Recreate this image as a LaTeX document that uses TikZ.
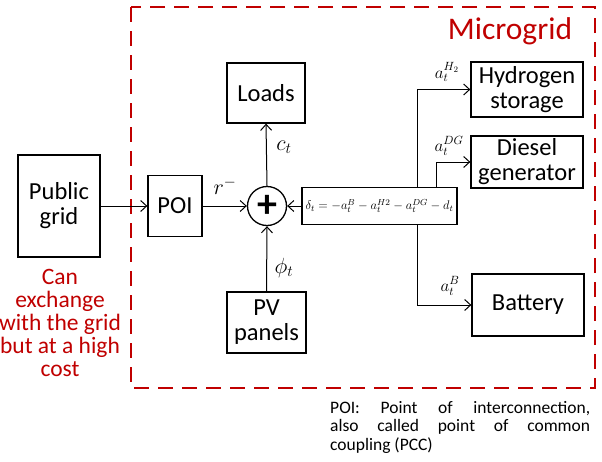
\RequirePackage{fix-cm}
\documentclass[tikz,border=0pt]{standalone}
\usepackage{fontspec}
\setmainfont{Carlito}
\usetikzlibrary{arrows.meta}
\definecolor{gridred}{RGB}{192,0,0}

\begin{document}
\begin{tikzpicture}[x=1pt, y=-1pt, >={Straight Barb[length=6pt,width=11pt]},
    blk/.style={draw, line width=1.3pt, align=center, inner sep=0pt,
        font=\fontsize{24.5}{25}\selectfont},
    lbl/.style={font=\fontsize{22}{24}\selectfont},
    sml/.style={font=\fontsize{17}{19}\selectfont}]
    \useasboundingbox (0,0) rectangle (602,461);

    % microgrid frame
    \draw[gridred, line width=2pt, dash pattern=on 15pt off 9pt] (131,7) rectangle (595,388);
    \node[gridred, font=\fontsize{31.5}{34}\selectfont] (mg) at (510,31) {Microgrid};

    \node[blk, minimum width=82pt, minimum height=102pt] (pub) at (59,206) {Public\\grid};
    \node[blk, minimum width=54pt, minimum height=61pt] (poi) at (175,206) {POI};
    \node[draw, circle, line width=1.3pt, minimum size=39pt, inner sep=0pt,
        font=\fontsize{40}{40}\selectfont\bfseries] (sum) at (267,206) {+};
    \node[blk, minimum width=78pt, minimum height=60pt] (loads) at (266,93) {Loads};
    \node[blk, minimum width=79pt, minimum height=61pt] (pv) at (266.5,322.5) {PV\\panels};
    \node[draw, line width=1.3pt, minimum width=155pt, minimum height=37pt, inner sep=0pt,
        font=\fontsize{12.5}{14}\selectfont] (dlt) at (379.5,206)
        {$\delta_t=-a_t^B-a_t^{H2}-a_t^{DG}-d_t$};
    \node[blk, minimum width=112pt, minimum height=55pt] (hyd) at (527,89.5) {Hydrogen\\storage};
    \node[blk, minimum width=112pt, minimum height=52pt] (dsl) at (527,162) {Diesel\\generator};
    \node[blk, minimum width=112pt, minimum height=62pt] (bat) at (528,305) {Battery};

    \coordinate (hx) at (417,150);
    \coordinate (dx) at (436,150);

    % flows
    \draw[->, line width=1pt] (pub.east) -- (poi.west);
    \draw[->, line width=1pt] (poi.east) -- (sum.west);
    \draw[->, line width=1pt] (sum.north) -- (loads.south);
    \draw[->, line width=1pt] (pv.north) -- (sum.south);
    \draw[->, line width=1pt] (dlt.west) -- (sum.east);
    \draw[->, line width=1pt] (hx |- dlt.north) |- (hyd.west);
    \draw[->, line width=1pt] (dx |- dlt.north) |- (dsl.west);
    \draw[->, line width=1pt] (hx |- dlt.south) |- (bat.west);

    \node[lbl] (rl) at (225,186) {$r^-$};
    \node[lbl] (cl) at (284,147) {$c_t$};
    \node[lbl] (pl) at (284,268) {$\phi_t$};
    \node[sml] (ah) at (447,72) {$a_t^{H_2}$};
    \node[sml] (ad) at (449,146) {$a_t^{DG}$};
    \node[sml] (ab) at (450,286) {$a_t^{B}$};

    \node[gridred, align=center, font=\fontsize{23.5}{23}\selectfont] (cost) at (60,323)
        {Can\\exchange\\with the grid\\but at a high\\cost};
    \node[anchor=north west, text width=260pt, align=justify, inner sep=0pt,
        font=\fontsize{17.5}{18.5}\selectfont] (note) at (330,401)
        {POI: Point of interconnection,\linebreak also called point of common\linebreak coupling (PCC)};
\end{tikzpicture}
\end{document}
